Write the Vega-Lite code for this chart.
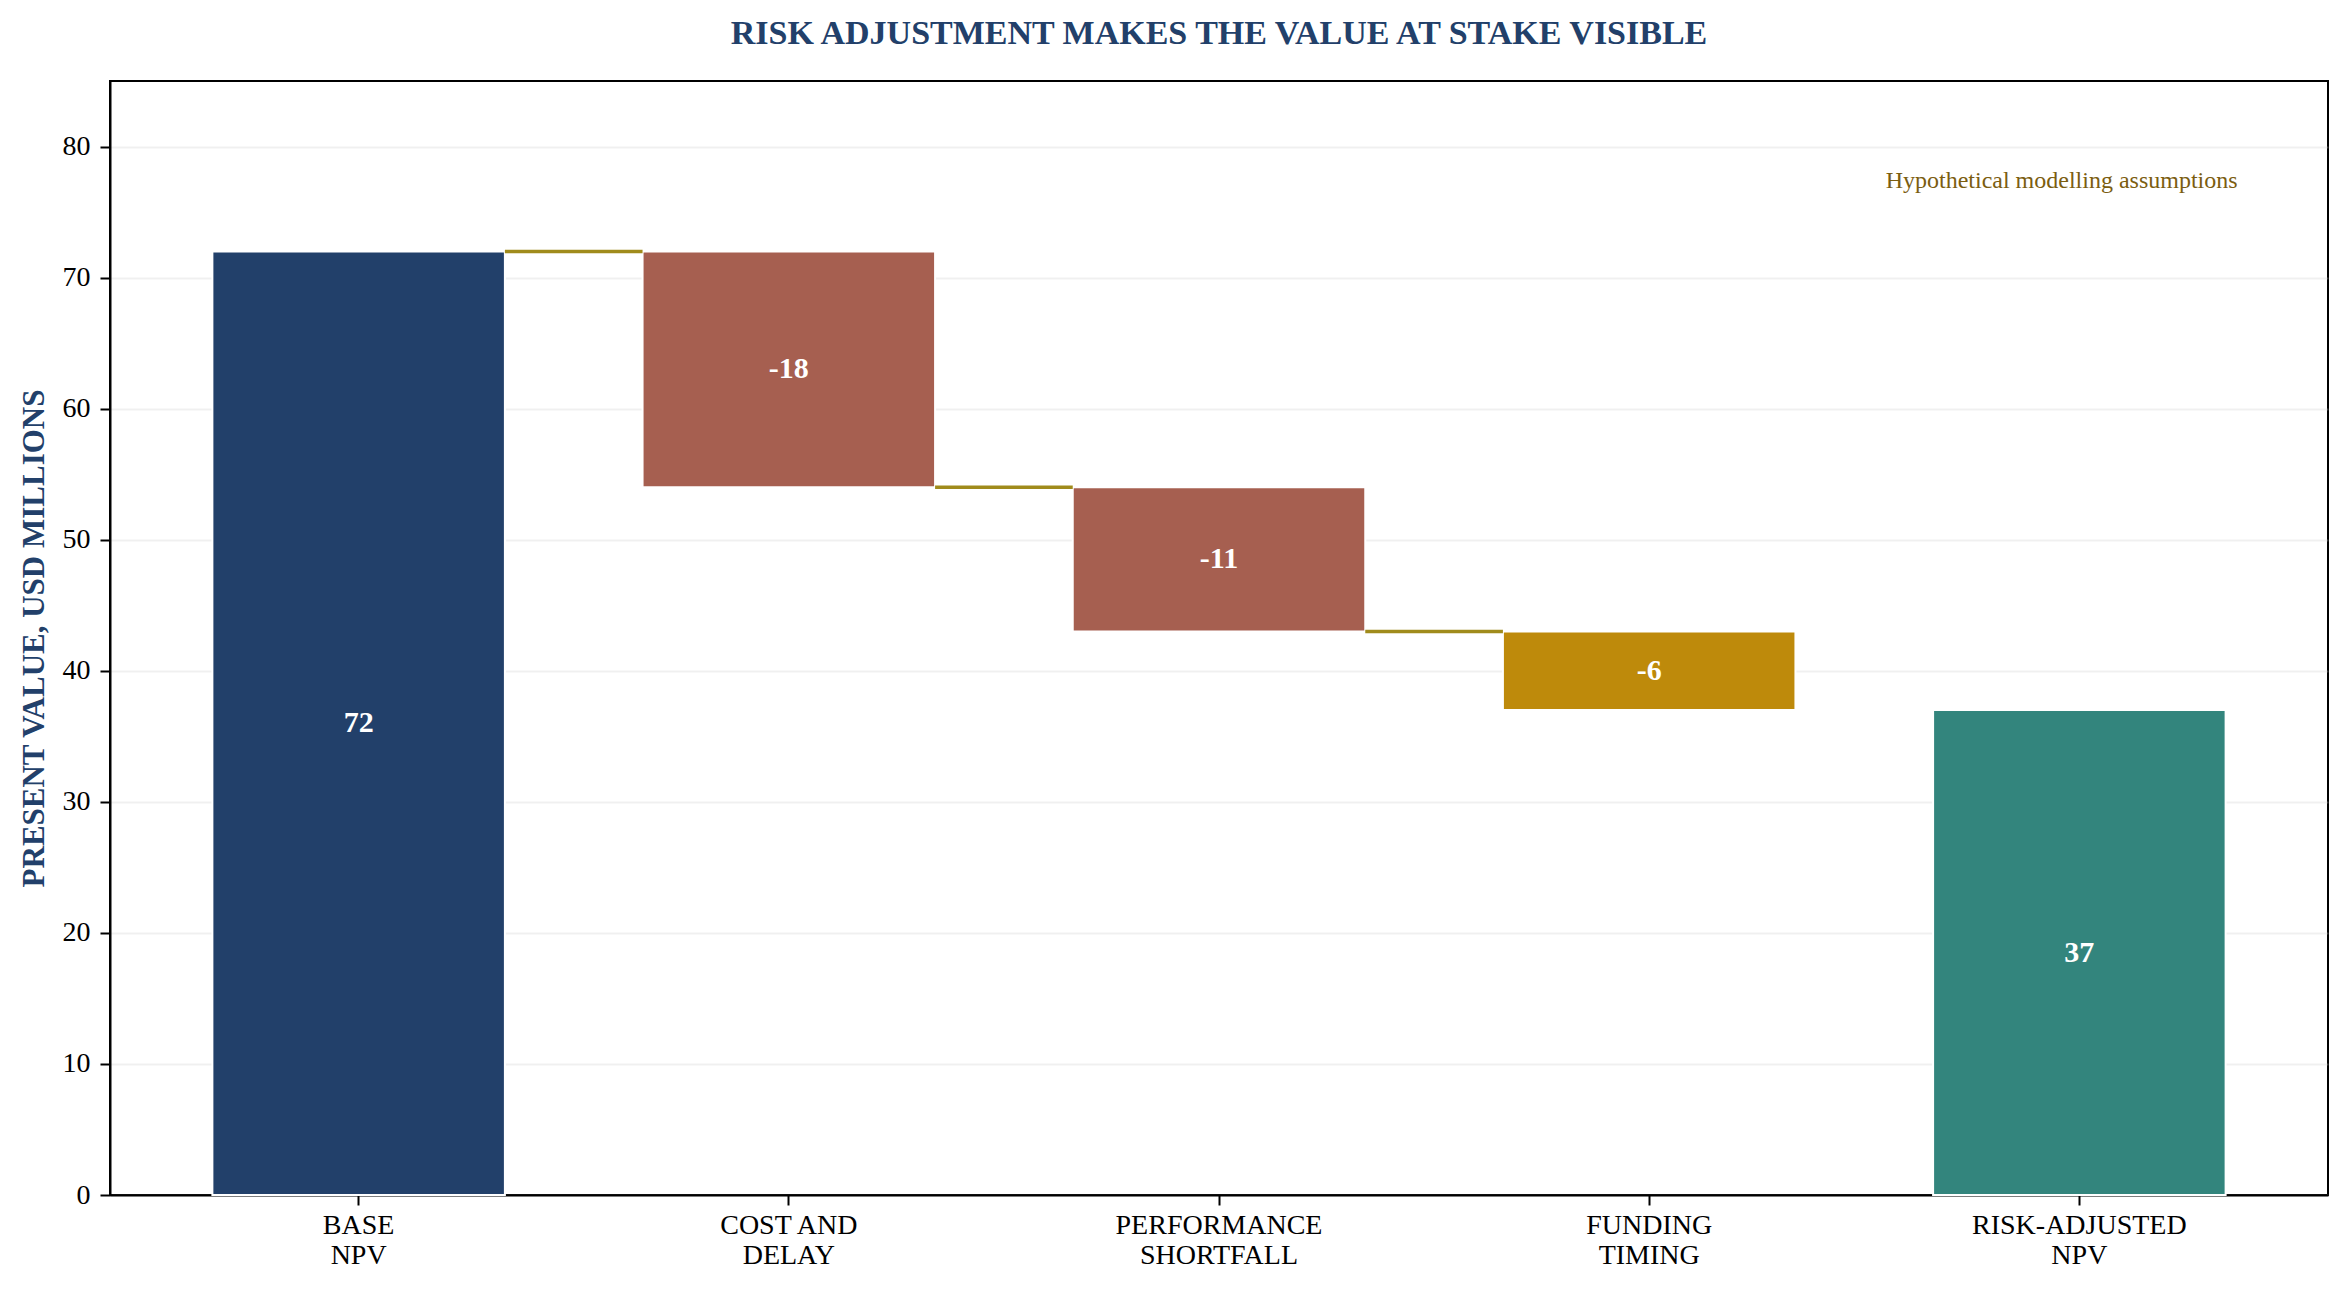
{
  "$schema": "https://vega.github.io/schema/vega-lite/v6.json",
  "autosize": {"type": "none"},
  "padding": {"left": 110, "top": 81, "right": 22, "bottom": 101},
  "width": 2218,
  "height": 1114,
  "background": "white",
  "title": {
    "text": "RISK ADJUSTMENT MAKES THE VALUE AT STAKE VISIBLE",
    "font": "Liberation Serif",
    "fontSize": 34,
    "fontWeight": "bold",
    "color": "#22406a",
    "anchor": "middle",
    "offset": 30
  },
  "config": {
    "view": {"stroke": "black", "strokeWidth": 2},
    "font": "Liberation Serif",
    "axis": {
      "labelFont": "Liberation Serif",
      "labelFontSize": 28,
      "labelColor": "black",
      "labelLimit": 0,
      "domainColor": "black",
      "domainWidth": 2,
      "tickColor": "black",
      "tickWidth": 2,
      "tickSize": 10,
      "zindex": 1
    }
  },
  "datasets": {
    "steps": [
      {"step": "BASE\nNPV", "start": 0, "end": 72, "label": "72"},
      {"step": "COST AND\nDELAY", "start": 72, "end": 54, "label": "-18"},
      {"step": "PERFORMANCE\nSHORTFALL", "start": 54, "end": 43, "label": "-11"},
      {"step": "FUNDING\nTIMING", "start": 43, "end": 37, "label": "-6"},
      {"step": "RISK-ADJUSTED\nNPV", "start": 0, "end": 37, "label": "37"}
    ],
    "links": [
      {"from": "BASE\nNPV", "to": "COST AND\nDELAY", "level": 72},
      {"from": "COST AND\nDELAY", "to": "PERFORMANCE\nSHORTFALL", "level": 54},
      {"from": "PERFORMANCE\nSHORTFALL", "to": "FUNDING\nTIMING", "level": 43}
    ],
    "notes": [
      {"note": "Hypothetical modelling assumptions", "at": "RISK-ADJUSTED\nNPV", "level": 77.4}
    ]
  },
  "layer": [
    {
      "data": {"name": "steps"},
      "mark": {"type": "bar", "stroke": "white", "strokeWidth": 2},
      "encoding": {
        "x": {
          "field": "step",
          "type": "nominal",
          "sort": null,
          "scale": {"paddingInner": 0.32, "paddingOuter": 0.238},
          "axis": {
            "title": null,
            "labelAngle": 0,
            "labelExpr": "split(datum.label, '\\n')",
            "labelLineHeight": 30,
            "labelPadding": 6,
            "labelBaseline": "top"
          }
        },
        "y": {
          "field": "start",
          "type": "quantitative",
          "scale": {"domain": [0, 85], "nice": false},
          "axis": {
            "title": "PRESENT VALUE, USD MILLIONS",
            "titleFont": "Liberation Serif",
            "titleFontSize": 31,
            "titleFontWeight": "bold",
            "titleColor": "#22406a",
            "titlePadding": 12,
            "values": [0, 10, 20, 30, 40, 50, 60, 70, 80],
            "labelPadding": 10,
            "grid": true,
            "gridColor": "#cccccc",
            "gridOpacity": 0.3,
            "gridWidth": 2
          }
        },
        "y2": {"field": "end"},
        "color": {
          "field": "step",
          "type": "nominal",
          "sort": null,
          "scale": {"range": ["#22406a", "#a65f50", "#a65f50", "#be8a0b", "#33857d"]},
          "legend": null
        }
      }
    },
    {
      "data": {"name": "links"},
      "mark": {"type": "rule", "color": "#a08b1c", "strokeWidth": 3.5},
      "encoding": {
        "x": {"field": "from", "type": "nominal", "sort": null, "bandPosition": 1},
        "x2": {"field": "to", "bandPosition": 0},
        "y": {"field": "level", "type": "quantitative"}
      }
    },
    {
      "data": {"name": "steps"},
      "transform": [{"calculate": "(datum.start + datum.end) / 2", "as": "mid"}],
      "mark": {
        "type": "text",
        "color": "white",
        "font": "Liberation Serif",
        "fontSize": 30,
        "fontWeight": "bold",
        "baseline": "middle"
      },
      "encoding": {
        "x": {"field": "step", "type": "nominal", "sort": null},
        "y": {"field": "mid", "type": "quantitative"},
        "text": {"field": "label"}
      }
    },
    {
      "data": {"name": "notes"},
      "mark": {
        "type": "text",
        "color": "#7b5d10",
        "font": "Liberation Serif",
        "fontSize": 24,
        "align": "right",
        "baseline": "middle",
        "dx": 12
      },
      "encoding": {
        "x": {"field": "at", "type": "nominal", "sort": null, "bandPosition": 1},
        "y": {"field": "level", "type": "quantitative"},
        "text": {"field": "note"}
      }
    }
  ]
}
